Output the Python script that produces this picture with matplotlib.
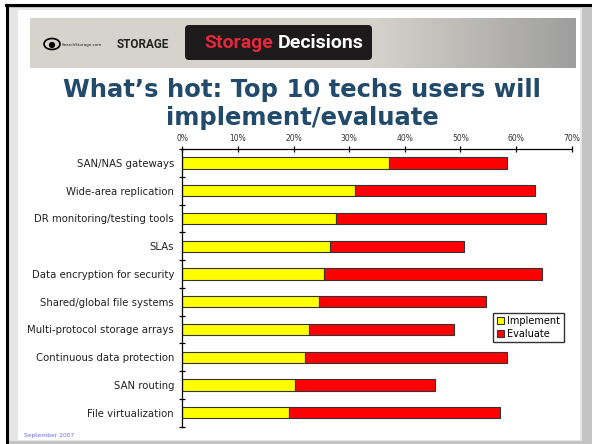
import numpy as np
import matplotlib
matplotlib.use("Agg")
import matplotlib.pyplot as plt
from matplotlib.patches import Rectangle, FancyBboxPatch, Ellipse, Circle

techs = ["SAN/NAS gateways", "Wide-area replication", "DR monitoring/testing tools",
         "SLAs", "Data encryption for security", "Shared/global file systems",
         "Multi-protocol storage arrays", "Continuous data protection",
         "SAN routing", "File virtualization"]
implement = [37.2, 31.0, 27.6, 26.6, 25.5, 24.5, 22.8, 22.1, 20.3, 19.1]
evaluate = [21.2, 32.4, 37.7, 24.0, 39.1, 30.1, 26.0, 36.3, 25.1, 38.1]
xticks = [0, 10, 20, 30, 40, 50, 60, 70]

fig = plt.figure(figsize=(5.92, 4.44), dpi=100, facecolor="white")

# slide background, in pixel coordinates
bg = fig.add_axes([0, 0, 1, 1], zorder=0)
bg.set_xlim(0, 592)
bg.set_ylim(444, 0)
bg.axis("off")
bg.add_patch(Rectangle((6, 4), 586, 440, facecolor="#c4c4c4", edgecolor="none"))
bg.add_patch(Rectangle((9, 8), 573, 433, facecolor="#e6e6e6", edgecolor="none"))
bg.add_patch(Rectangle((18, 10), 562, 430, facecolor="white", edgecolor="none"))
bg.plot([6, 592], [5, 5], color="black", lw=2.2)
bg.plot([7, 7], [5, 444], color="black", lw=2.2)

# header banner with gradient towards the right
grad = np.linspace(0, 1, 300)
cols = np.clip((grad - 0.62) / 0.38, 0, 1)
r = 0.84 - 0.22 * cols
g = 0.83 - 0.21 * cols
b = 0.80 - 0.18 * cols
img = np.dstack([r, g, b])[0][None, :, :]
img = np.repeat(img, 10, axis=0)
bg.imshow(img, extent=(30, 576, 68, 18), aspect="auto", zorder=1)
bg.add_patch(FancyBboxPatch((185, 25), 187, 35, boxstyle="round,pad=0,rounding_size=4",
                            facecolor="#1c1a1a", edgecolor="none", zorder=2))
bg.text(273, 43, "Storage", color="#e2283a", fontsize=14, fontweight="bold",
        family="Roboto", ha="right", va="center", zorder=3)
bg.text(278, 43, "Decisions", color="white", fontsize=14, fontweight="bold",
        family="Roboto", ha="left", va="center", zorder=3)
bg.add_patch(Ellipse((52, 44), 16, 11, facecolor="none", edgecolor="black", lw=1.2, zorder=3))
bg.add_patch(Circle((52, 45), 2.4, color="black", zorder=3))
bg.text(62, 45, "SearchStorage.com", fontsize=3, color="#222222", va="center", zorder=3)
bg.text(117, 44, "STORAGE", fontsize=8.5, fontweight="bold", color="#222222",
        family="Roboto", va="center", zorder=3)

bg.text(302, 97, "What\u2019s hot: Top 10 techs users will", fontsize=17.5,
        fontweight="bold", color="#214a6b", ha="center", va="baseline")
bg.text(302, 125, "implement/evaluate", fontsize=17.5,
        fontweight="bold", color="#214a6b", ha="center", va="baseline")
bg.text(24, 437, "September 2007", fontsize=4.3, color="#6b6bff", va="baseline")

# chart
ax = fig.add_axes([0.308, 0.039, 0.6577, 0.6254], zorder=2)
ax.patch.set_alpha(0)
y = np.arange(len(techs))
ax.barh(y, implement, height=0.41, color="#ffff00", edgecolor="#333333", lw=0.8,
        label="Implement")
ax.barh(y, evaluate, left=implement, height=0.41, color="#ff0000", edgecolor="#333333",
        lw=0.8, label="Evaluate")
ax.set_xlim(0, 70)
ax.set_ylim(len(techs) - 0.5, -0.5)
ax.xaxis.tick_top()
ax.set_xticks(xticks)
ax.set_xticklabels([f"{t}%" for t in xticks], fontsize=5.5, color="#333333")
ax.set_yticks(y)
ax.set_yticklabels(techs, fontsize=7.3, color="#222222")
ax.set_yticks(np.arange(-0.5, len(techs)), minor=True)
ax.tick_params(axis="y", which="major", length=0, pad=6)
ax.tick_params(axis="y", which="minor", length=4, direction="inout", width=0.9)
ax.tick_params(axis="x", length=4, direction="inout", width=0.9, pad=2)
for s in ["right", "bottom"]:
    ax.spines[s].set_visible(False)
ax.spines["top"].set_linewidth(0.9)
ax.spines["left"].set_linewidth(0.9)

ax.legend(loc="upper left", bbox_to_anchor=(0.833, 0.296),
          bbox_transform=fig.transFigure, fontsize=7, frameon=True, fancybox=False,
          edgecolor="black", handlelength=0.8, handleheight=0.8, handletextpad=0.3,
          borderpad=0.35, labelspacing=0.3, borderaxespad=0)

fig.savefig("out.png", dpi=100, facecolor="white")
